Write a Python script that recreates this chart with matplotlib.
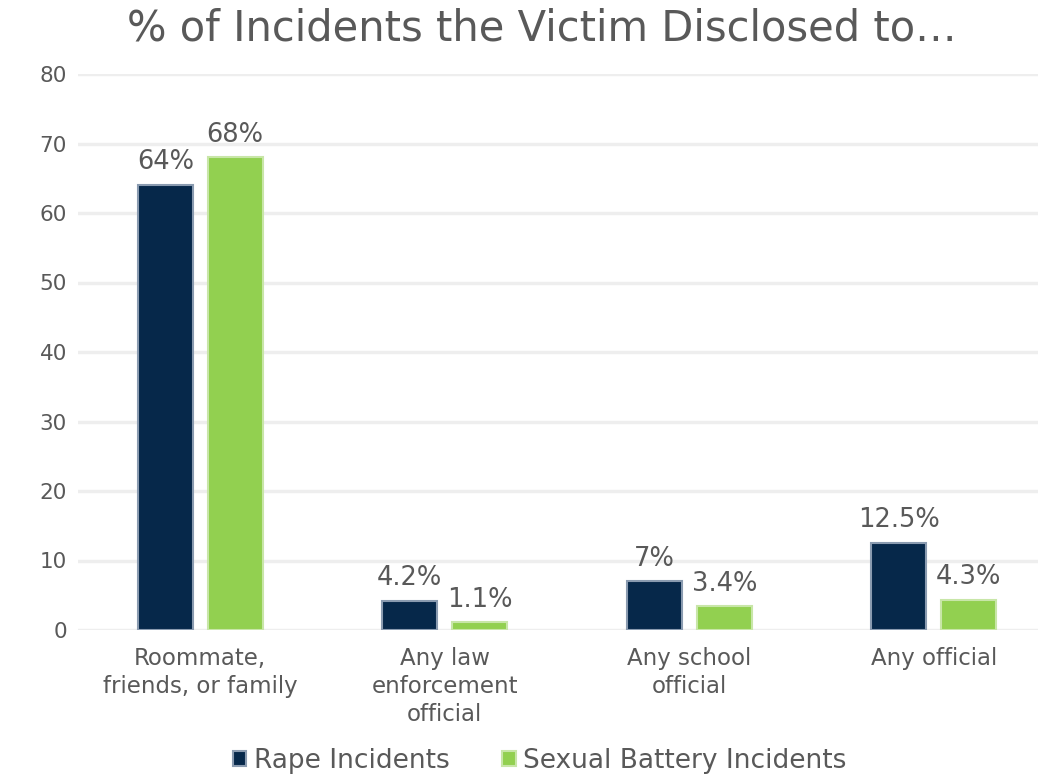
import matplotlib.pyplot as plt
import numpy as np

plt.rcParams['font.family'] = ['DejaVu Sans']

# data
categories = ["Roommate,\nfriends, or family", "Any law\nenforcement\nofficial",
              "Any school\nofficial", "Any official"]
rape = [64, 4.2, 7, 12.5]
battery = [68, 1.1, 3.4, 4.3]
rape_labels = ["64%", "4.2%", "7%", "12.5%"]
battery_labels = ["68%", "1.1%", "3.4%", "4.3%"]
series_names = ["Rape Incidents", "Sexual Battery Incidents"]

navy = "#06284A"
green = "#92D050"
grey = "#595959"

fig = plt.figure(figsize=(10.38, 7.75), dpi=100)
ax = fig.add_axes([78/1038, 145/775, 978/1038, 556/775])

x = np.arange(len(categories))
w = 0.225
off = 0.143
b1 = ax.bar(x - off, rape, w, color=navy, edgecolor="#8A9BB0", linewidth=1.5,
            label=series_names[0], zorder=3)
b2 = ax.bar(x + off, battery, w, color=green, edgecolor="#C8E6A8", linewidth=1.5,
            label=series_names[1], zorder=3)

ax.bar_label(b1, labels=rape_labels, padding=7, fontsize=18.5, color=grey)
ax.bar_label(b2, labels=battery_labels, padding=7, fontsize=18.5, color=grey)

ax.set_ylim(0, 80)
ax.set_xlim(-0.5, 3.5)
ax.set_yticks(range(0, 81, 10))
ax.tick_params(axis='y', length=0, pad=8, labelsize=15.5, labelcolor=grey)
ax.tick_params(axis='x', length=0, pad=12, labelsize=16.5, labelcolor=grey)
ax.set_xticks(x)
ax.set_xticklabels(categories, linespacing=1.3)
ax.grid(axis='y', color="#EEEEEE", linewidth=2.5, zorder=0)
for s in ax.spines.values():
    s.set_visible(False)

fig.suptitle("% of Incidents the Victim Disclosed to…", x=0.522, y=0.99,
             fontsize=30, color=grey)

fig.legend(handles=[b1, b2], loc='center', bbox_to_anchor=(0.52, 0.018),
           ncol=2, frameon=False, fontsize=19, labelcolor=grey,
           handlelength=0.5, handleheight=0.5, handletextpad=0.3, columnspacing=2.0)

fig.savefig("out.png", dpi=100)
